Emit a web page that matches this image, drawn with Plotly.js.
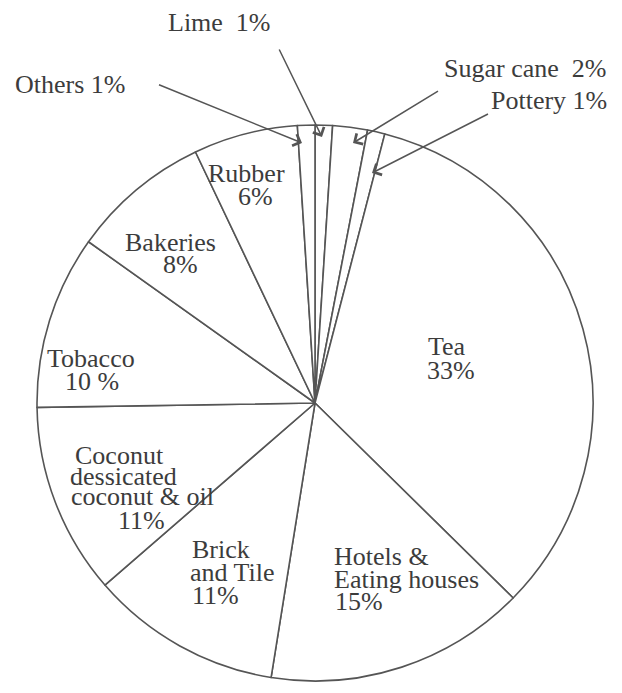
<!DOCTYPE html>
<html>
<head>
<meta charset="utf-8">
<script src="https://cdn.plot.ly/plotly-3.0.1.min.js"></script>
<style>html,body{margin:0;padding:0;background:#fff;}#chart{width:622px;height:693px;}</style>
</head>
<body>
<div id="chart"></div>
<script>
// ---- data ----
var categories = ['Lime', 'Sugar cane', 'Pottery', 'Tea', 'Hotels & Eating houses', 'Brick and Tile',
  'Coconut dessicated coconut & oil', 'Tobacco', 'Bakeries', 'Rubber', 'Others'];
var shares = [1, 2, 1, 33, 15, 11, 11, 10, 8, 6, 1];
var labelLines = {
  'Tea': ['Tea', '33%'],
  'Hotels & Eating houses': ['Hotels &', 'Eating houses', '15%'],
  'Brick and Tile': ['Brick', 'and Tile', '11%'],
  'Coconut dessicated coconut & oil': ['Coconut', 'dessicated', 'coconut & oil', '11%'],
  'Tobacco': ['Tobacco', '10 %'],
  'Bakeries': ['Bakeries', '8%'],
  'Rubber': ['Rubber', '6%']
};
var outsideLabels = {
  'Lime': 'Lime\u00a0\u00a01%',
  'Others': 'Others 1%',
  'Sugar cane': 'Sugar cane\u00a0\u00a02%',
  'Pottery': 'Pottery 1%'
};

// ---- layout helpers (pixel positions of text in the 622x693 frame) ----
var W = 622, H = 693;
function px(X) { return X / W; }
function py(Y) { return 1 - Y / H; }
var FONT = {family: 'Liberation Serif', size: 26, color: '#3c3c3c'};
var insidePos = {
  'Tea': [[447, 346, 'center'], [451, 370, 'center']],
  'Hotels & Eating houses': [[332, 556, 'left'], [332, 579, 'left'], [333, 601, 'left']],
  'Brick and Tile': [[190, 549, 'left'], [188, 572, 'left'], [190, 595, 'left']],
  'Coconut dessicated coconut & oil': [[120, 455, 'center'], [123, 476, 'center'], [142, 497, 'center'], [141, 520, 'center']],
  'Tobacco': [[91, 358, 'center'], [92, 381, 'center']],
  'Bakeries': [[170, 242, 'center'], [180, 264, 'center']],
  'Rubber': [[246, 174, 'center'], [255, 196, 'center']]
};
var outsidePos = {
  'Lime': {label: [219, 22], tail: [278, 47], tip: [322, 137]},
  'Others': {label: [70, 84], tail: [157, 84], tip: [302, 143]},
  'Sugar cane': {label: [525, 69], tail: [440, 90], tip: [353, 143]},
  'Pottery': {label: [549, 101], tail: [490, 113], tip: [372, 173]}
};

var annotations = [];
Object.keys(labelLines).forEach(function (k) {
  labelLines[k].forEach(function (line, i) {
    var p = insidePos[k][i];
    annotations.push({
      text: line, x: px(p[0]), y: py(p[1]), xref: 'paper', yref: 'paper',
      xanchor: p[2], yanchor: 'middle', showarrow: false, font: FONT
    });
  });
});
Object.keys(outsideLabels).forEach(function (k) {
  var p = outsidePos[k];
  annotations.push({
    text: outsideLabels[k], x: px(p.label[0]), y: py(p.label[1]), xref: 'paper', yref: 'paper',
    xanchor: 'center', yanchor: 'middle', showarrow: false, font: FONT
  });
  annotations.push({
    text: ' ', x: px(p.tip[0]), y: py(p.tip[1]), xref: 'paper', yref: 'paper',
    ax: p.tail[0] - p.tip[0], ay: p.tail[1] - p.tip[1],
    showarrow: true, arrowhead: 4, arrowsize: 1.6, arrowwidth: 1.5, arrowcolor: '#555',
    standoff: 0, startstandoff: 0, font: {size: 2}
  });
});

var cx = 315, cy = 403, R = 278;
var trace = {
  type: 'pie',
  labels: categories,
  values: shares,
  sort: false,
  direction: 'clockwise',
  rotation: 0,
  textinfo: 'none',
  hoverinfo: 'none',
  showlegend: false,
  marker: {colors: categories.map(function () { return '#ffffff'; }), line: {color: '#555555', width: 1.6}},
  domain: {x: [px(cx - R), px(cx + R)], y: [py(cy + R), py(cy - R)]}
};

Plotly.newPlot('chart', [trace], {
  width: W, height: H,
  margin: {l: 0, r: 0, t: 0, b: 0},
  paper_bgcolor: '#ffffff',
  showlegend: false,
  font: {family: 'Liberation Serif'},
  annotations: annotations
}, {displayModeBar: false, staticPlot: true});
</script>
</body>
</html>
